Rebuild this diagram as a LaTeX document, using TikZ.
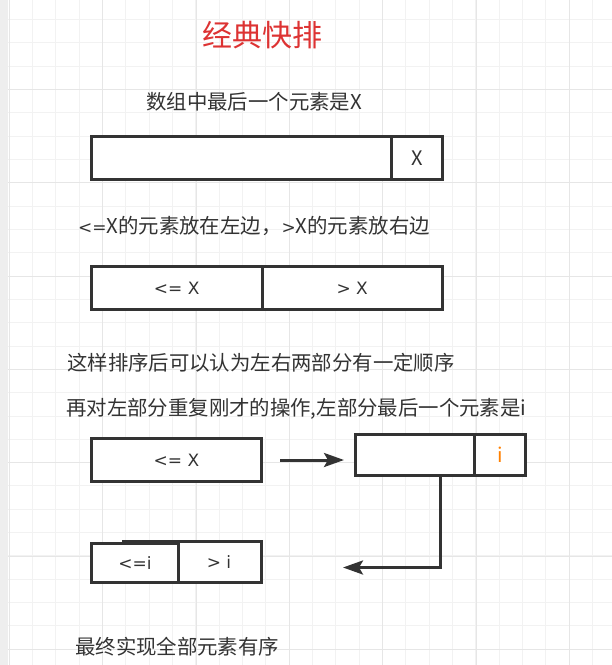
\documentclass[tikz,border=0pt]{standalone}
\usepackage{fontspec}
\setmainfont{Noto Sans CJK SC}
\newfontfamily\symfont{DejaVu Sans}
\usetikzlibrary{arrows.meta}
\definecolor{ink}{HTML}{333333}
\definecolor{titlered}{HTML}{DD3333}
\definecolor{orangei}{HTML}{FF8000}
\definecolor{gridminor}{HTML}{F2F2F2}
\definecolor{gridmajor}{HTML}{E6E6E6}
\definecolor{sidebar}{HTML}{EEEEEE}
\tikzset{
  cell/.style={draw=ink, fill=white, line width=3pt, rectangle, inner sep=0pt, outer sep=0pt, text=ink},
  boxtext/.style={font=\symfont\fontsize{17}{20}\selectfont},
  celltext/.style={font=\fontsize{20}{24}\selectfont},
  caption/.style={text=ink, inner sep=0pt, font=\fontsize{20.4}{24}\selectfont},
  conn/.style={draw=ink, line width=3pt, -{Stealth[length=20pt,width=14pt,inset=4pt]}},
}
\begin{document}
\begin{tikzpicture}[x=1pt,y=-1pt]
  \useasboundingbox (0,0) rectangle (612,665);
  % page background and grid
  \fill[white] (0,0) rectangle (612,665);
  \foreach \i in {0,...,26} {
    \draw[gridminor, line width=1pt] ({9.333+\i*23.333},0) -- ({9.333+\i*23.333},665);
  }
  \foreach \j in {0,...,29} {
    \draw[gridminor, line width=1pt] (0,{-4+\j*23.333}) -- (612,{-4+\j*23.333});
  }
  \foreach \i in {0,...,6} {
    \draw[gridmajor, line width=1pt] ({9.333+\i*93.333},0) -- ({9.333+\i*93.333},665);
  }
  \foreach \j in {0,...,7} {
    \draw[gridmajor, line width=1pt] (0,{-4+\j*93.333}) -- (612,{-4+\j*93.333});
  }
  \fill[sidebar] (0,0) rectangle (8,665);

  % title
  \node[text=titlered, inner sep=0pt, font=\fontsize{30}{36}\selectfont] (title) at (262,35) {经典快排};

  % step 1: the last element is X
  \node[caption, anchor=west] (t1) at (146,102) {数组中最后一个元素是X};
  \node[cell, minimum width=351pt, minimum height=43pt] (b1) at (267,158) {};
  \node[cell, celltext, minimum width=51.5pt, minimum height=43pt] (b1x) at (416.75,158) {X};

  % step 2: partition around X
  \node[caption, anchor=west] (t2) at (78,226) {{\symfont\fontsize{17}{20}\selectfont<=}X的元素放在左边，{\symfont\fontsize{17}{20}\selectfont>}X的元素放右边};
  \node[cell, boxtext, minimum width=170.5pt, minimum height=43pt] (b2l) at (176.75,288) {<= X};
  \node[cell, boxtext, minimum width=180.5pt, minimum height=43pt] (b2r) at (352.25,288) {> X};

  % step 3: recurse on the left part
  \node[caption, anchor=west] (t3) at (67,363) {这样排序后可以认为左右两部分有一定顺序};
  \node[caption, anchor=west] (t4) at (66,409) {再对左部分重复刚才的操作,左部分最后一个元素是i};
  \node[cell, boxtext, minimum width=170pt, minimum height=43pt] (b3) at (176.5,460) {<= X};
  \node[cell, minimum width=170pt, minimum height=41pt] (b4) at (440.5,455) {};
  \node[cell, celltext, text=orangei, minimum width=51pt, minimum height=41pt] (b4i) at (500,455) {i};

  % step 4: partition the left part around i
  \node[cell, minimum width=138.5pt, minimum height=41.5pt] (b5r) at (192.25,561.75) {};
  \node[anchor=center, inner sep=0pt, text=ink, boxtext] (b5rt) at (219,562) {> i};
  \node[cell, boxtext, minimum width=87pt, minimum height=39.5pt] (b5l) at (135,562.75) {<=i};
  \coordinate (back) at (343,567.5);

  % connectors
  \draw[conn, shorten <=18.5pt, shorten >=11.5pt] (b3.east) -- (b3.east -| b4.west);
  \draw[conn, line cap=butt] (b4.south) |- (back);

  % conclusion
  \node[caption, anchor=west] (t5) at (75,647) {最终实现全部元素有序};
\end{tikzpicture}
\end{document}
